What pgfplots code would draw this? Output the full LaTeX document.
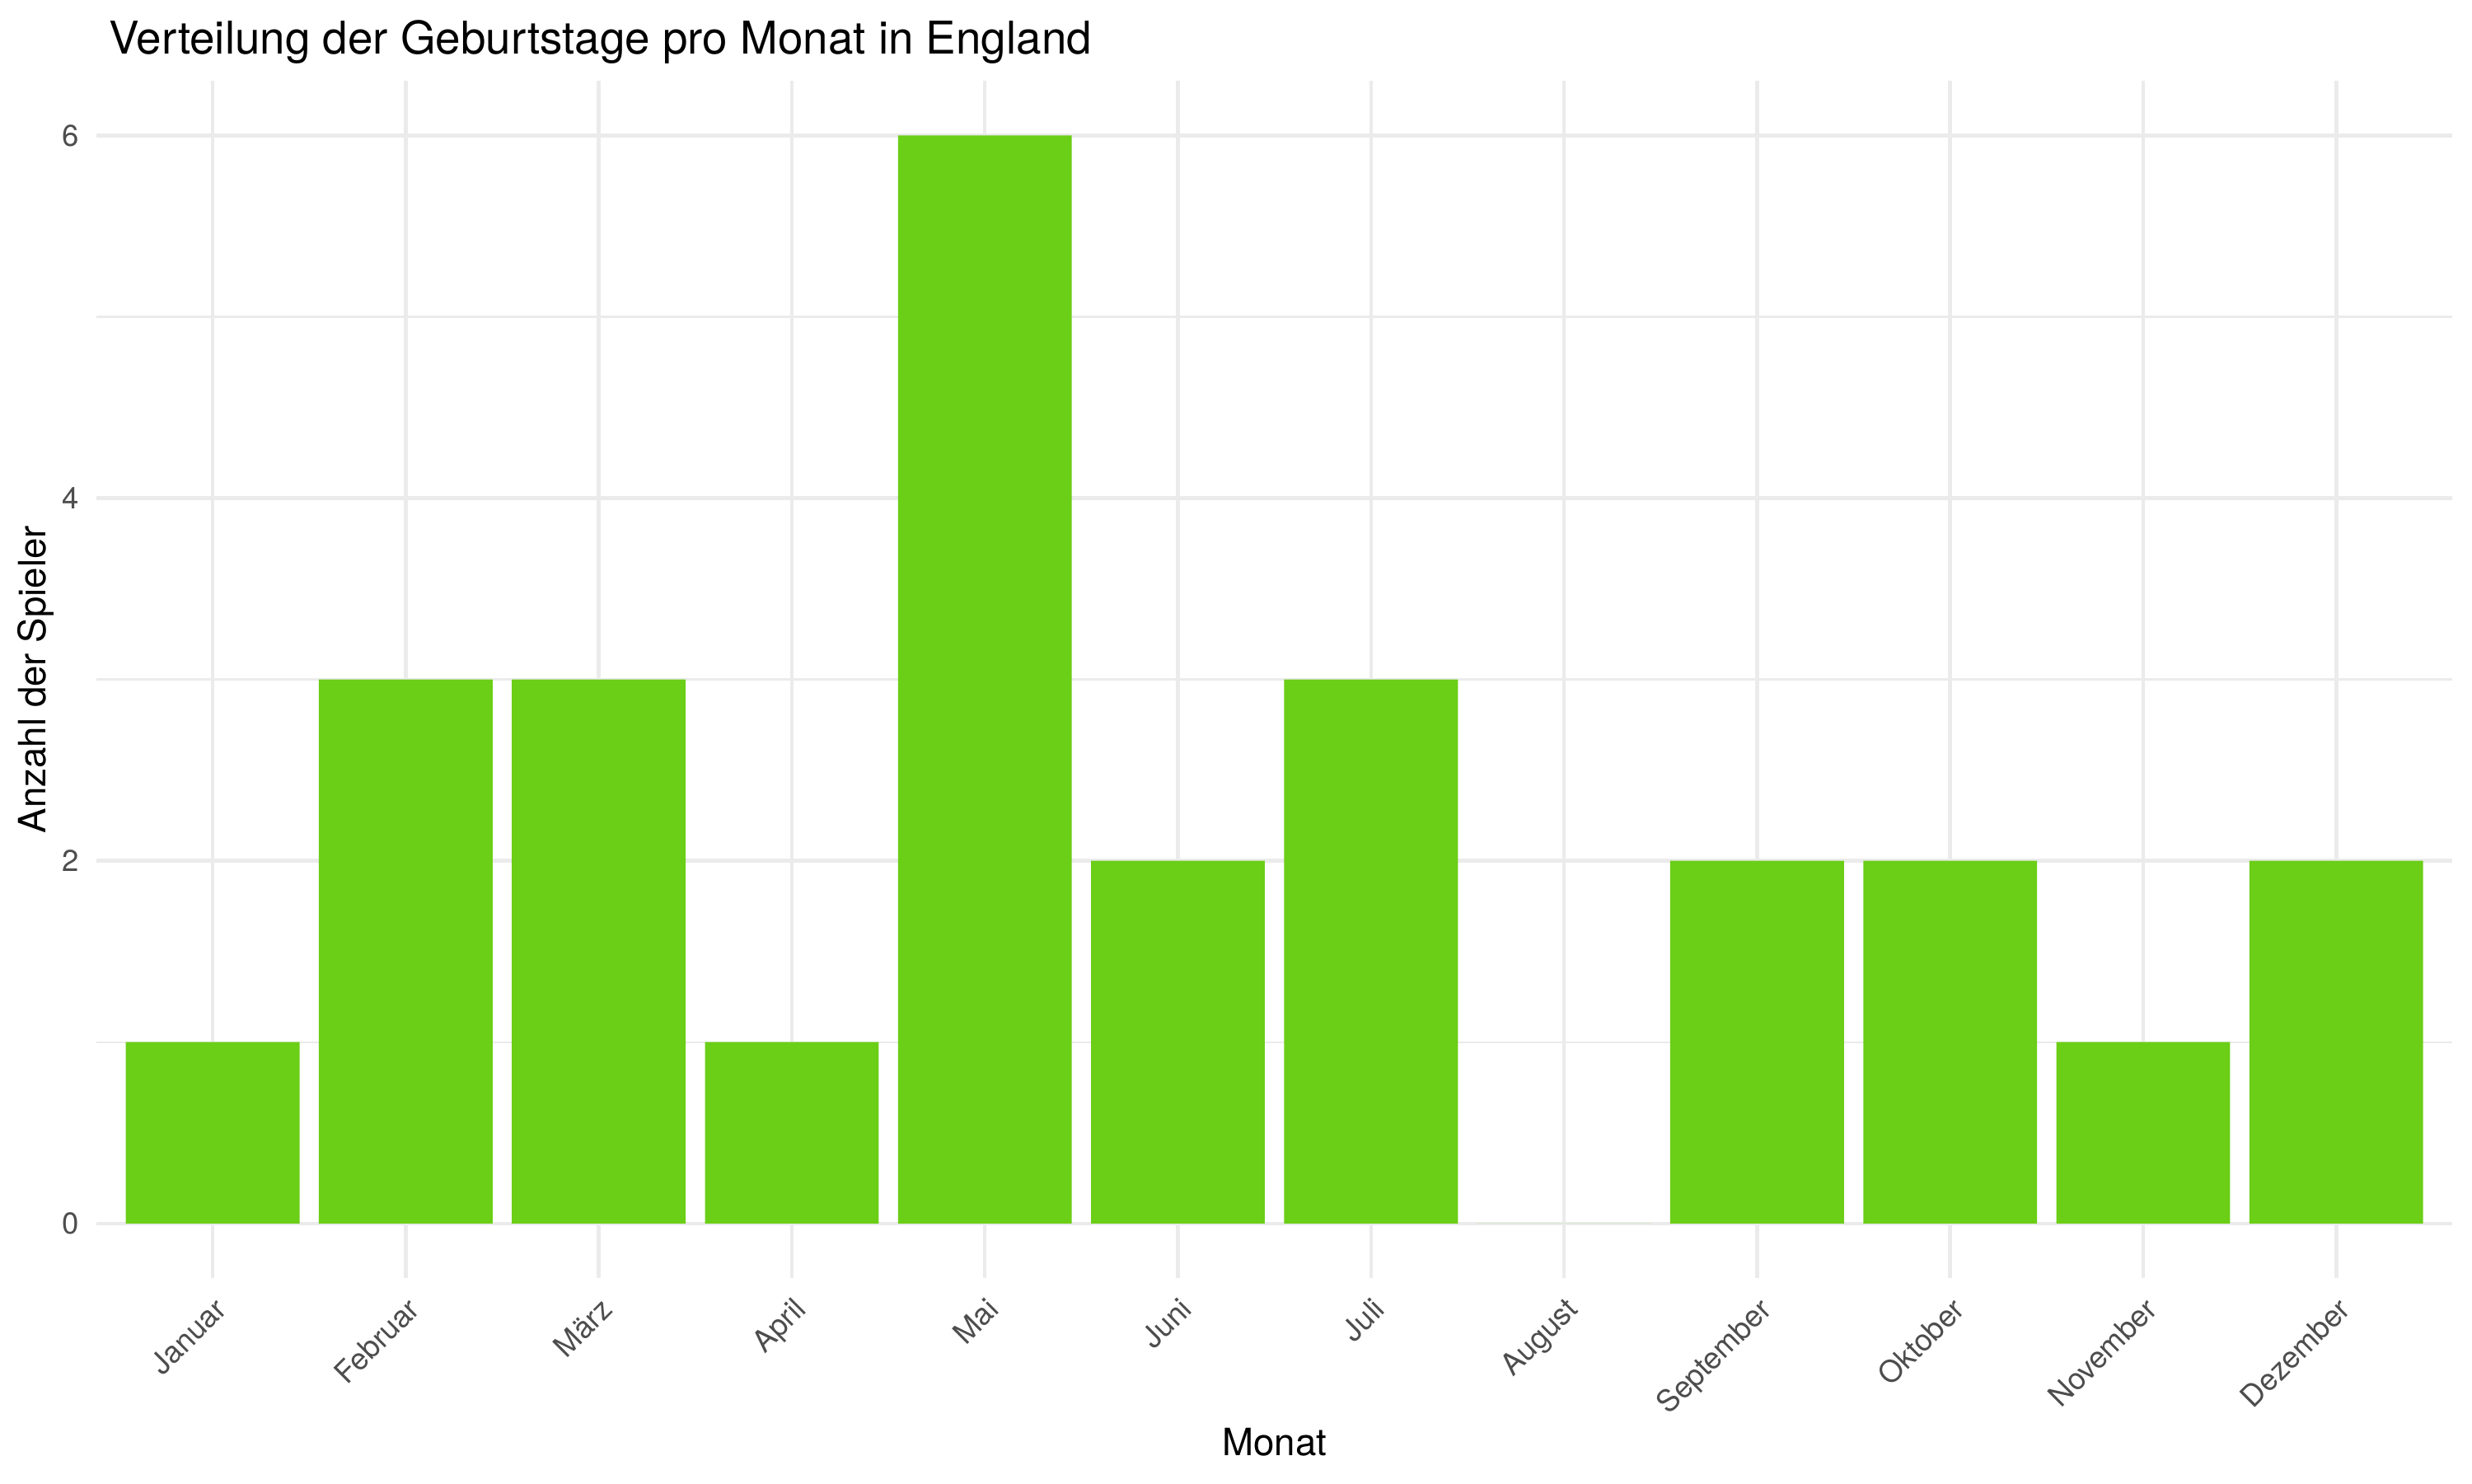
\documentclass[border=0pt]{standalone}
\usepackage{fontspec}
\setmainfont{TeX Gyre Heros}
\usepackage{pgfplots}
\pgfplotsset{compat=1.18}
\definecolor{barfill}{HTML}{6BCE17}
\definecolor{gridmaj}{HTML}{EBEBEB}
\definecolor{ticktext}{HTML}{4D4D4D}
\begin{document}
\begin{tikzpicture}
\useasboundingbox (-28.2bp,-59.8bp) rectangle (691.8bp,372.2bp);
\begin{axis}[
  at={(0,0)}, anchor=south west,
  scale only axis, width=686bp, height=348.6bp,
  xmin=-0.6, xmax=11.6, ymin=-0.3, ymax=6.3,
  xtick={0,1,2,3,4,5,6,7,8,9,10,11},
  xticklabels={Januar,Februar,M\"arz,April,Mai,Juni,Juli,August,September,Oktober,November,Dezember},
  ytick={0,2,4,6}, minor ytick={1,3,5},
  xmajorgrids, ymajorgrids, yminorgrids,
  major grid style={gridmaj, line width=1.07pt},
  minor grid style={gridmaj, line width=0.53pt},
  axis line style={draw=none},
  tick style={draw=none},
  /pgf/number format/assume math mode=true,
  xticklabel style={font=\fontsize{8.8}{10}\selectfont, text=ticktext, rotate=45, anchor=north east, inner sep=0pt},
  xticklabel shift={4.95bp},
  yticklabel style={font=\fontsize{8.8}{10}\selectfont, text=ticktext, anchor=east, inner sep=0pt},
  yticklabel shift={4.95bp},
  xlabel={Monat},
  xlabel style={font=\fontsize{11}{13}\selectfont, at={(axis description cs:0.5,0)}, anchor=base, yshift=-51.8bp},
  ylabel={Anzahl der Spieler},
  ylabel style={font=\fontsize{11}{13}\selectfont, at={(axis description cs:-0.02187,0.5)}, anchor=base},
  every axis title shift=0pt,
  title={Verteilung der Geburtstage pro Monat in England},
  title style={font=\fontsize{13.2}{15}\selectfont, at={(axis description cs:0,1)}, anchor=base west, yshift=8bp},
]
\addplot[ybar, bar width=0.9, fill=barfill, draw=none] coordinates {
  (0,1) (1,3) (2,3) (3,1) (4,6) (5,2) (6,3) (7,0) (8,2) (9,2) (10,1) (11,2)
};
\end{axis}
\end{tikzpicture}
\end{document}
